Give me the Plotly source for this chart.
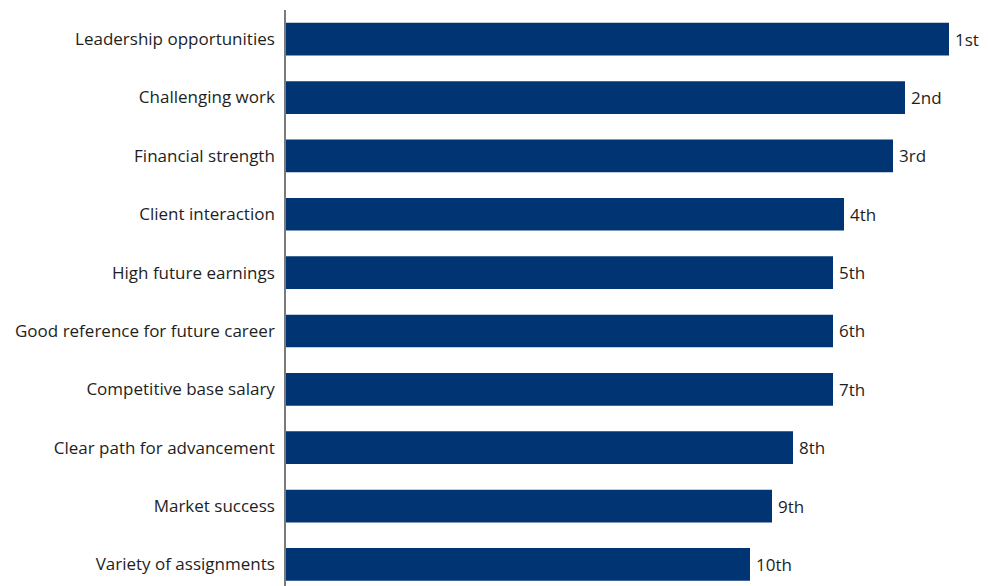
import plotly.graph_objects as go

# Ranked attributes, top to bottom
categories = [
    "Leadership opportunities",
    "Challenging work",
    "Financial strength",
    "Client interaction",
    "High future earnings",
    "Good reference for future career",
    "Competitive base salary",
    "Clear path for advancement",
    "Market success",
    "Variety of assignments",
]
scores = [66.3, 61.9, 60.7, 55.8, 54.7, 54.7, 54.7, 50.7, 48.6, 46.4]
rank_labels = ["1st", "2nd", "3rd", "4th", "5th", "6th", "7th", "8th", "9th", "10th"]

BAR_COLOR = "#003473"
TEXT_COLOR = "#1e1e1e"
FONT = "Open Sans, Noto Sans, sans-serif"

fig = go.Figure(
    go.Bar(
        x=scores,
        y=categories,
        orientation="h",
        marker=dict(color=BAR_COLOR, line=dict(width=0)),
        width=0.56,
        hoverinfo="skip",
    )
)

for cat, val, lab in zip(categories, scores, rank_labels):
    fig.add_annotation(
        x=val, y=cat, text=lab, showarrow=False,
        xanchor="left", yanchor="middle", xshift=4,
        font=dict(family=FONT, size=17, color=TEXT_COLOR),
    )

fig.update_layout(
    width=988,
    height=586,
    margin=dict(l=286, r=0, t=10, b=0),
    paper_bgcolor="white",
    plot_bgcolor="white",
    showlegend=False,
    font=dict(family=FONT, size=17, color=TEXT_COLOR),
    bargap=0.44,
)
fig.update_xaxes(
    range=[0, 70.2],
    showgrid=False, zeroline=False, showticklabels=False, showline=False,
)
fig.update_yaxes(
    type="category",
    categoryorder="array",
    categoryarray=categories,
    range=[9.37, -0.5],
    showgrid=False, zeroline=False,
    showline=True, linecolor="#7a7a7a", linewidth=1.5,
    ticks="", ticklabelstandoff=6,
    automargin=False,
    tickfont=dict(family=FONT, size=17, color=TEXT_COLOR),
)

fig.write_html("out.html")
